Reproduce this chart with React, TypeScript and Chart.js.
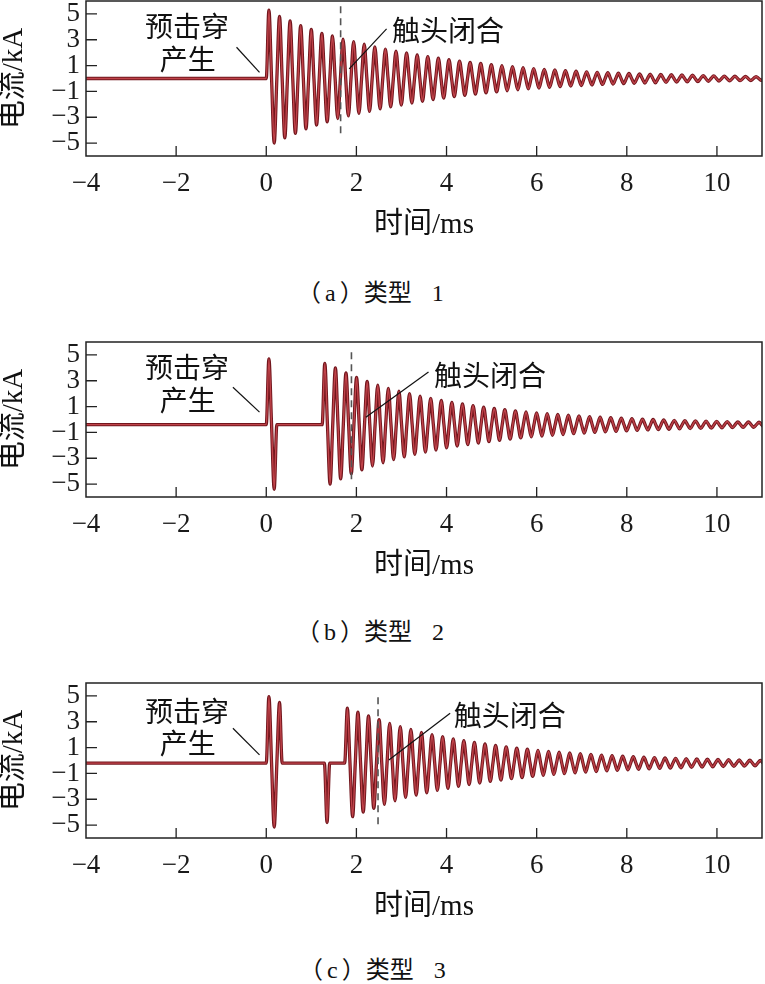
import React, { useEffect, useRef } from 'react';
import { Chart, registerables } from 'chart.js';

Chart.register(...registerables);

// ---------- axes ----------
const X_MIN = -4;
const X_MAX = 11;
const Y_MIN = -6;
const Y_MAX = 6;
const X_TICKS = [-4, -2, 0, 2, 4, 6, 8, 10];
const Y_TICKS = [-5, -3, -1, 1, 3, 5];
const X_TITLE = '时间/ms';
const Y_TITLE = '电流/kA';

// half period of the oscillation (ms), read from the peak spacing
const HALF_PERIOD = 0.1175;

// ---------- panel (a) 类型 1 ----------
const p1Caption = ['（', 'a', '）类型', ' 1'];
const p1Baseline = 0;
const p1MainStart = 0;
const p1MainPeaks = [
  5.3, 5.0, 4.8, 4.6, 4.45, 4.25, 4.1, 3.9, 3.8, 3.6,
  3.5, 3.35, 3.3, 3.1, 3.05, 2.9, 2.85, 2.7, 2.65, 2.55,
  2.45, 2.35, 2.28, 2.2, 2.12, 2.05, 1.98, 1.9, 1.83, 1.76,
  1.7, 1.63, 1.57, 1.51, 1.46, 1.4, 1.35, 1.3, 1.25, 1.2,
  1.16, 1.11, 1.07, 1.03, 0.99, 0.95, 0.91, 0.87, 0.84, 0.8,
  0.77, 0.74, 0.71, 0.68, 0.66, 0.63, 0.61, 0.58, 0.56, 0.54,
  0.52, 0.5, 0.48, 0.46, 0.45, 0.43, 0.42, 0.4, 0.39, 0.37,
  0.36, 0.35, 0.34, 0.33, 0.31, 0.3, 0.29, 0.28, 0.27, 0.26,
  0.25, 0.24, 0.23, 0.22, 0.21, 0.2, 0.19, 0.18, 0.18, 0.17,
  0.16, 0.16, 0.15, 0.15,
];
const p1CloseTime = 1.65;
const p1CloseSpan = [5.6, -4.6];

// ---------- panel (b) 类型 2 ----------
const p2Caption = ['（', 'b', '）类型', ' 2'];
const p2Baseline = -0.4;
const p2PulseStart = 0;
const p2PulsePeaks = [5.1, 5.0];
const p2MainStart = 1.24;
const p2MainPeaks = [
  4.75, 4.6, 4.4, 4.2, 4.0, 3.8, 3.65, 3.5, 3.35, 3.2,
  3.05, 2.95, 2.8, 2.7, 2.6, 2.5, 2.4, 2.3, 2.2, 2.12,
  2.04, 1.96, 1.88, 1.8, 1.73, 1.66, 1.6, 1.54, 1.48, 1.42,
  1.36, 1.31, 1.26, 1.21, 1.16, 1.12, 1.07, 1.03, 0.99, 0.95,
  0.91, 0.88, 0.85, 0.82, 0.79, 0.76, 0.73, 0.7, 0.67, 0.65,
  0.62, 0.6, 0.58, 0.56, 0.54, 0.52, 0.5, 0.48, 0.46, 0.44,
  0.43, 0.41, 0.4, 0.38, 0.37, 0.36, 0.34, 0.33, 0.32, 0.31,
  0.3, 0.29, 0.28, 0.27, 0.26, 0.25, 0.24, 0.23, 0.22, 0.21,
  0.21, 0.2, 0.19, 0.19,
];
const p2CloseTime = 1.89;
const p2CloseSpan = [5.2, -5.0];

// ---------- panel (c) 类型 3 ----------
const p3Caption = ['（', 'c', '）类型', ' 3'];
const p3Baseline = -0.2;
const p3PulseStart = 0;
const p3PulsePeaks = [5.15, 4.95, 4.7];
const p3DipStart = 1.29;
const p3DipPeaks = [4.6];
const p3MainStart = 1.74;
const p3MainPeaks = [
  4.25, 4.15, 3.95, 3.8, 3.65, 3.5, 3.37, 3.2, 3.08, 2.92,
  2.82, 2.65, 2.6, 2.48, 2.38, 2.3, 2.2, 2.12, 2.04, 1.96,
  1.88, 1.8, 1.73, 1.66, 1.6, 1.54, 1.48, 1.42, 1.36, 1.31,
  1.26, 1.21, 1.16, 1.12, 1.07, 1.03, 0.99, 0.95, 0.91, 0.88,
  0.85, 0.82, 0.79, 0.76, 0.73, 0.7, 0.67, 0.65, 0.62, 0.6,
  0.58, 0.56, 0.54, 0.52, 0.5, 0.48, 0.46, 0.44, 0.43, 0.41,
  0.4, 0.38, 0.37, 0.36, 0.34, 0.33, 0.32, 0.31, 0.3, 0.29,
  0.28, 0.27, 0.26, 0.25, 0.24, 0.23, 0.22, 0.21, 0.2,
];
const p3CloseTime = 2.48;
const p3CloseSpan = [4.9, -5.0];

// ---------- annotations (data coordinates) ----------
const LABEL_PRE1 = '预击穿';
const LABEL_PRE2 = '产生';
const LABEL_CLOSE = '触头闭合';

const p1Labels = [
  { text: LABEL_PRE1, x: -1.76, y: 4.02, align: 'center' },
  { text: LABEL_PRE2, x: -1.74, y: 1.47, align: 'center' },
  { text: LABEL_CLOSE, x: 2.79, y: 3.71, align: 'left' },
];
const p1Leaders = [
  [[-0.66, 2.42], [-0.15, 0.48]],
  [[1.84, 0.74], [2.67, 3.84]],
];
const p2Labels = [
  { text: LABEL_PRE1, x: -1.76, y: 4.03, align: 'center' },
  { text: LABEL_PRE2, x: -1.74, y: 1.47, align: 'center' },
  { text: LABEL_CLOSE, x: 3.72, y: 3.41, align: 'left' },
];
const p2Leaders = [
  [[-0.74, 2.5], [-0.15, 0.57]],
  [[2.21, 0.18], [3.6, 3.67]],
];
const p3Labels = [
  { text: LABEL_PRE1, x: -1.76, y: 3.84, align: 'center' },
  { text: LABEL_PRE2, x: -1.74, y: 1.36, align: 'center' },
  { text: LABEL_CLOSE, x: 4.16, y: 3.53, align: 'left' },
];
const p3Leaders = [
  [[-0.74, 2.5], [-0.15, 0.43]],
  [[2.72, 0.04], [4.08, 3.66]],
];

// ---------- styles ----------
const WAVE_OUTLINE = '#72161d';
const WAVE_CORE = '#c0434a';
const SERIF = '"Liberation Serif", "Times New Roman", serif';
const CJK = '"Noto Sans CJK SC", sans-serif';
const MIXED = '"Liberation Serif", "Noto Sans CJK SC", serif';
const CANVAS_W = 765;
const CANVAS_H = 250;
const PANEL_TOPS = [0, 341, 682];
const CAPTION_CENTERS = [291, 630, 968];
const CAPTION_LEFTS = [297, 296, 299];

type Seg = { start: number; firstSign: number; mags: number[] };

function buildTrace(baseline: number, segs: Seg[]) {
  const pts: { x: number; y: number }[] = [{ x: X_MIN, y: baseline }];
  for (const s of segs) {
    pts.push({ x: s.start, y: baseline });
    s.mags.forEach((m, i) => {
      const sign = (i % 2 === 0 ? 1 : -1) * s.firstSign;
      pts.push({ x: s.start + (i + 0.5) * HALF_PERIOD, y: baseline + sign * m });
      pts.push({ x: s.start + (i + 1) * HALF_PERIOD, y: baseline });
    });
  }
  const last = pts[pts.length - 1];
  if (last.x < X_MAX) pts.push({ x: X_MAX, y: baseline });
  return pts;
}

const fmt = (v: number) => (v < 0 ? '\u2212' + Math.abs(v) : String(v));

const framePlugin = {
  id: 'frameTicks',
  afterDraw(chart: any) {
    const { ctx, chartArea: a, scales } = chart;
    ctx.save();
    ctx.strokeStyle = '#222';
    ctx.lineWidth = 1.5;
    ctx.strokeRect(a.left, a.top, a.right - a.left, a.bottom - a.top);
    ctx.lineWidth = 1.3;
    ctx.beginPath();
    for (const v of X_TICKS) {
      const px = scales.x.getPixelForValue(v);
      if (px <= a.left + 1) continue;
      ctx.moveTo(px, a.bottom);
      ctx.lineTo(px, a.bottom - 10);
    }
    for (const v of Y_TICKS) {
      const py = scales.y.getPixelForValue(v);
      ctx.moveTo(a.left, py);
      ctx.lineTo(a.left + 11, py);
    }
    ctx.stroke();
    ctx.restore();
  },
};

const labelPlugin = {
  id: 'annLabels',
  afterDraw(chart: any, _args: any, opts: any) {
    const { ctx, scales } = chart;
    ctx.save();
    ctx.fillStyle = '#111';
    ctx.font = '28px ' + CJK;
    ctx.textBaseline = 'middle';
    for (const l of opts.items || []) {
      ctx.textAlign = l.align;
      ctx.fillText(l.text, scales.x.getPixelForValue(l.x), scales.y.getPixelForValue(l.y));
    }
    ctx.restore();
  },
};

function makeConfig(trace: any[], closeTime: number, closeSpan: number[], labels: any[], leaders: number[][][]) {
  const datasets: any[] = [];
  datasets.push({
    data: [{ x: closeTime, y: closeSpan[0] }, { x: closeTime, y: closeSpan[1] }],
    borderColor: '#555',
    borderWidth: 1.6,
    borderDash: [7, 5],
    pointRadius: 0,
    order: 0,
  });
  leaders.forEach((ld) => {
    datasets.push({
      data: ld.map(([x, y]) => ({ x, y })),
      borderColor: '#111',
      borderWidth: 1.2,
      pointRadius: 0,
      order: 0,
    });
  });
  datasets.push({
    data: trace,
    borderColor: WAVE_CORE,
    borderWidth: 1.4,
    pointRadius: 0,
    cubicInterpolationMode: 'monotone',
    order: 1,
  });
  datasets.push({
    data: trace,
    borderColor: WAVE_OUTLINE,
    borderWidth: 3.3,
    pointRadius: 0,
    cubicInterpolationMode: 'monotone',
    order: 2,
  });

  return {
    type: 'line',
    data: { datasets },
    options: {
      animation: false,
      responsive: false,
      maintainAspectRatio: false,
      events: [],
      layout: { padding: { left: 0, right: 3, top: 1, bottom: 0 } },
      plugins: {
        legend: { display: false },
        tooltip: { enabled: false },
        annLabels: { items: labels },
      },
      scales: {
        x: {
          type: 'linear',
          min: X_MIN,
          max: X_MAX,
          afterBuildTicks: (s: any) => {
            s.ticks = X_TICKS.map((v) => ({ value: v }));
          },
          afterFit: (s: any) => {
            s.height = 94;
            s.paddingLeft = 0;
            s.paddingRight = 0;
          },
          grid: { display: false, drawTicks: false },
          border: { display: false },
          ticks: {
            autoSkip: false,
            maxRotation: 0,
            padding: 12,
            color: '#1a1a1a',
            font: { family: SERIF, size: 27 },
            callback: (v: any) => fmt(Number(v)),
          },
          title: {
            display: true,
            text: X_TITLE,
            color: '#111',
            font: { family: MIXED, size: 29, lineHeight: 1.2 },
            padding: { top: 0, bottom: 7 },
          },
        },
        y: {
          type: 'linear',
          min: Y_MIN,
          max: Y_MAX,
          afterBuildTicks: (s: any) => {
            s.ticks = Y_TICKS.map((v) => ({ value: v }));
          },
          afterFit: (s: any) => {
            s.width = 86;
            s.paddingTop = 0;
            s.paddingBottom = 0;
          },
          grid: { display: false, drawTicks: false },
          border: { display: false },
          ticks: {
            autoSkip: false,
            padding: 6,
            color: '#1a1a1a',
            font: { family: SERIF, size: 27 },
            callback: (v: any) => fmt(Number(v)),
          },
          title: {
            display: true,
            text: Y_TITLE,
            color: '#111',
            font: { family: MIXED, size: 29, lineHeight: 1 },
            padding: { top: 0, bottom: 0 },
          },
        },
      },
    },
    plugins: [framePlugin, labelPlugin],
  };
}

export default function App() {
  const r1 = useRef<HTMLCanvasElement>(null);
  const r2 = useRef<HTMLCanvasElement>(null);
  const r3 = useRef<HTMLCanvasElement>(null);

  useEffect(() => {
    const t1 = buildTrace(p1Baseline, [{ start: p1MainStart, firstSign: 1, mags: p1MainPeaks }]);
    const t2 = buildTrace(p2Baseline, [
      { start: p2PulseStart, firstSign: 1, mags: p2PulsePeaks },
      { start: p2MainStart, firstSign: 1, mags: p2MainPeaks },
    ]);
    const t3 = buildTrace(p3Baseline, [
      { start: p3PulseStart, firstSign: 1, mags: p3PulsePeaks },
      { start: p3DipStart, firstSign: -1, mags: p3DipPeaks },
      { start: p3MainStart, firstSign: 1, mags: p3MainPeaks },
    ]);
    const charts = [
      new Chart(r1.current!, makeConfig(t1, p1CloseTime, p1CloseSpan, p1Labels, p1Leaders) as any),
      new Chart(r2.current!, makeConfig(t2, p2CloseTime, p2CloseSpan, p2Labels, p2Leaders) as any),
      new Chart(r3.current!, makeConfig(t3, p3CloseTime, p3CloseSpan, p3Labels, p3Leaders) as any),
    ];
    return () => charts.forEach((c) => c.destroy());
  }, []);

  const refs = [r1, r2, r3];
  const captions = [p1Caption, p2Caption, p3Caption];

  return (
    <div
      style={{
        position: 'fixed',
        left: 0,
        top: 0,
        width: CANVAS_W,
        height: 984,
        background: '#fff',
        overflow: 'hidden',
      }}
    >
      {refs.map((r, i) => (
        <canvas
          key={'c' + i}
          ref={r}
          width={CANVAS_W}
          height={CANVAS_H}
          style={{ position: 'absolute', left: 0, top: PANEL_TOPS[i], width: CANVAS_W, height: CANVAS_H }}
        />
      ))}
      {captions.map((c, i) => (
        <div
          key={'t' + i}
          style={{
            position: 'absolute',
            left: CAPTION_LEFTS[i],
            top: CAPTION_CENTERS[i] - 16,
            height: 32,
            lineHeight: '32px',
            whiteSpace: 'pre',
            fontSize: 24,
            color: '#111',
          }}
        >
          <span style={{ fontFamily: CJK }}>{c[0]}</span>
          <span style={{ fontFamily: SERIF, margin: '0 4px' }}>{c[1]}</span>
          <span style={{ fontFamily: CJK }}>{c[2]}</span>
          <span style={{ fontFamily: SERIF, marginLeft: 14 }}>{c[3]}</span>
        </div>
      ))}
    </div>
  );
}
